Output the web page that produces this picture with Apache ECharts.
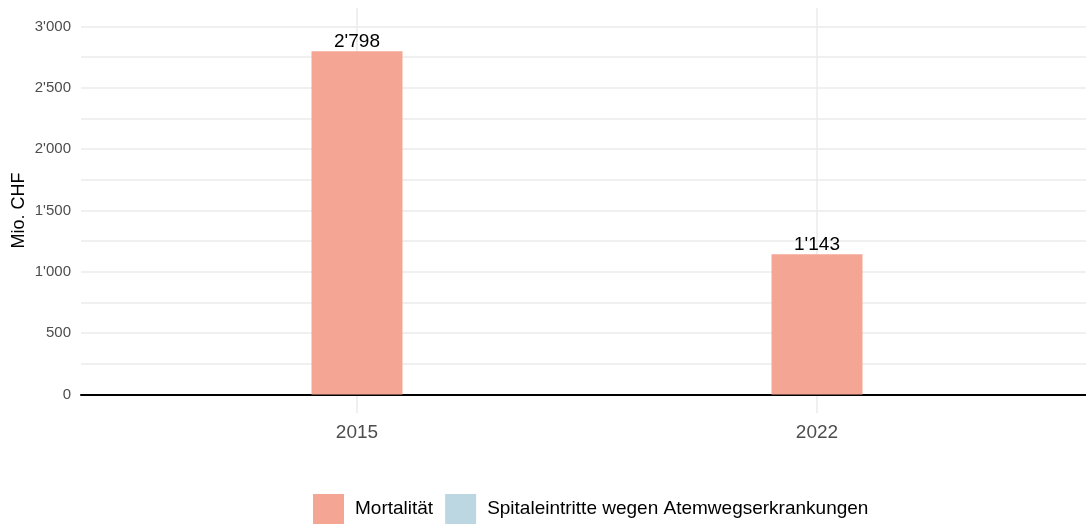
<!DOCTYPE html>
<html>
<head>
<meta charset="utf-8">
<title>Mio. CHF</title>
<script src="https://cdn.jsdelivr.net/npm/echarts@6/dist/echarts.min.js"></script>
<style>
  html, body { margin: 0; padding: 0; background: #fff; }
  #chart { width: 1086px; height: 525px; }
</style>
</head>
<body>
<div id="chart"></div>
<script>
// Daten
var years = ['2015', '2022']
var mortalitaet = [2798, 1143]
var spitaleintritte = [0, 0]
var yTicks = [0, 500, 1000, 1500, 2000, 2500, 3000]
var yGrid = [0, 250, 500, 750, 1000, 1250, 1500, 1750, 2000, 2250, 2500, 2750, 3000]

// Tausendertrennzeichen wie 2'798
function fmt(v) {
  return String(v).replace(/\B(?=(\d{3})+(?!\d))/g, "'")
}

var chart = echarts.init(document.getElementById('chart'))
var font = 'Liberation Sans, Arial, sans-serif'
var gridColor = '#EBEBEB'

var option = {
  animation: false,
  textStyle: { fontFamily: font },
  grid: {
    left: 81,
    top: 8,
    width: 1012,
    height: 405,
    outerBoundsMode: 'none',
    containLabel: false,
  },
  legend: {
    left: 313,
    top: 494,
    padding: 0,
    itemWidth: 31,
    itemHeight: 30,
    itemGap: 12,
    icon: 'rect',
    textStyle: {
      fontFamily: font,
      fontSize: 19,
      color: '#000',
      padding: [0, 0, 0, 6],
    },
    data: ['Mortalität', 'Spitaleintritte wegen Atemwegserkrankungen'],
  },
  xAxis: {
    type: 'value',
    min: -0.6,
    max: 1.6,
    axisLine: {
      show: true,
      onZero: true,
      lineStyle: { color: '#000', width: 2 },
    },
    axisTick: { show: false, customValues: [0, 1] },
    axisLabel: {
      customValues: [0, 1],
      margin: 10,
      fontSize: 19,
      color: '#4D4D4D',
      formatter: function (v) {
        return years[v]
      },
    },
    splitLine: {
      show: true,
      lineStyle: { color: gridColor, width: 1.5 },
    },
  },
  yAxis: {
    type: 'value',
    min: -150,
    max: 3150,
    name: 'Mio. CHF',
    nameLocation: 'middle',
    nameGap: 53,
    nameMoveOverlap: false,
    nameTextStyle: { fontFamily: font, fontSize: 18, color: '#000' },
    axisLine: { show: false },
    axisTick: { show: false, customValues: yGrid },
    axisLabel: {
      customValues: yTicks,
      margin: 10,
      fontSize: 15,
      color: '#4D4D4D',
      formatter: function (v) {
        return fmt(v)
      },
    },
    splitLine: {
      show: true,
      lineStyle: { color: gridColor, width: 1.5 },
    },
  },
  series: [
    {
      name: 'Mortalität',
      type: 'bar',
      stack: 'total',
      barWidth: 91,
      itemStyle: { color: '#F4A594' },
      label: {
        show: true,
        position: 'top',
        distance: 0,
        fontFamily: font,
        fontSize: 19,
        color: '#000',
        formatter: function (p) {
          return fmt(p.value[1])
        },
      },
      data: years.map(function (y, i) {
        return [i, mortalitaet[i]]
      }),
    },
    {
      name: 'Spitaleintritte wegen Atemwegserkrankungen',
      type: 'bar',
      stack: 'total',
      barWidth: 91,
      itemStyle: { color: '#BDD7E2' },
      data: years.map(function (y, i) {
        return [i, spitaleintritte[i]]
      }),
    },
  ],
}

chart.setOption(option)
</script>
</body>
</html>
